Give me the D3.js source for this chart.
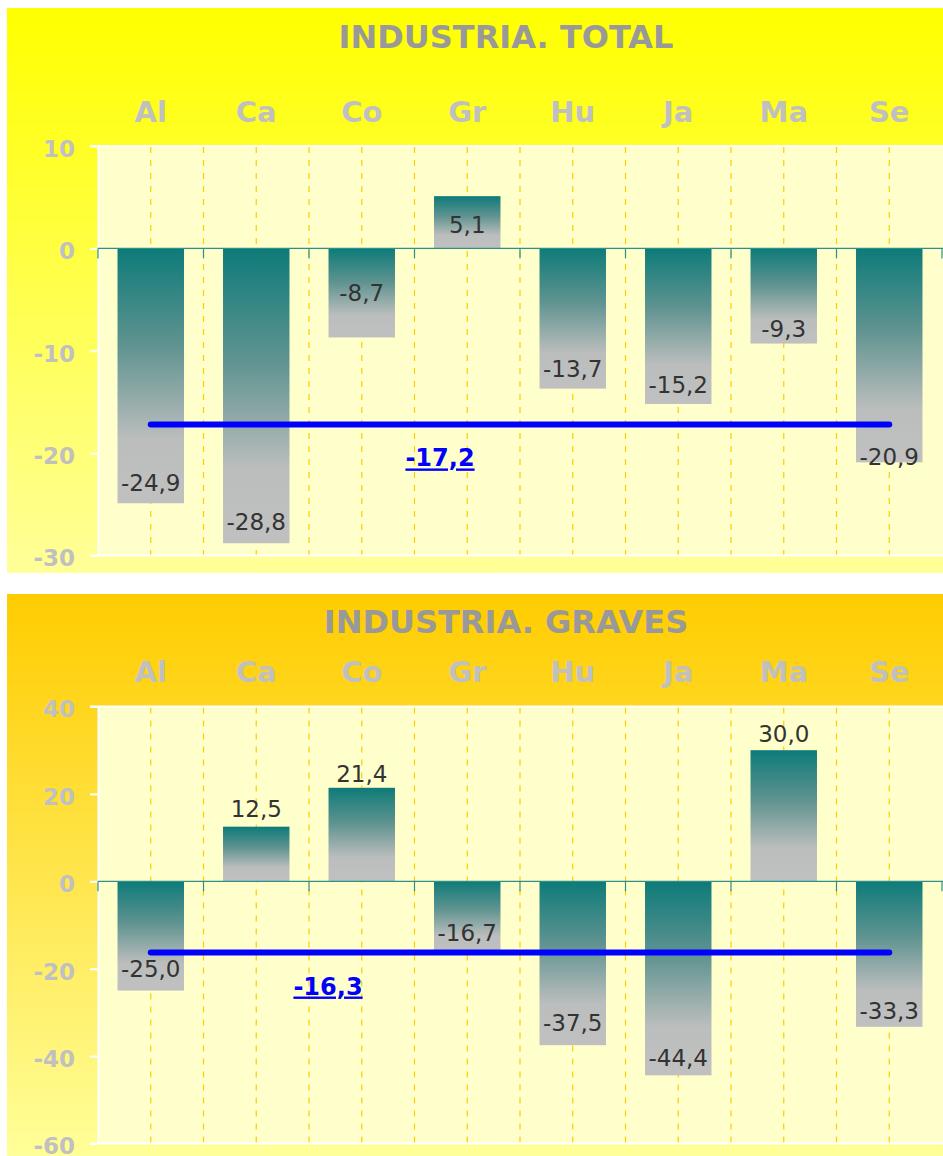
<!DOCTYPE html>
<html>
<head>
<meta charset="utf-8">
<title>Industria</title>
<script src="https://cdn.jsdelivr.net/npm/d3@7"></script>
<style>
  body { margin: 0; background: #fff; }
  svg { display: block; font-family: "DejaVu Sans", Verdana, sans-serif; }
</style>
</head>
<body>
<svg id="chart" width="943" height="1156"></svg>
<script>
// Data
const categories = ["Al", "Ca", "Co", "Gr", "Hu", "Ja", "Ma", "Se"];

const totalValues = [-24.9, -28.8, -8.7, 5.1, -13.7, -15.2, -9.3, -20.9];
const totalMean = -17.2;
const totalTicks = [10, 0, -10, -20, -30];

const gravesValues = [-25.0, 12.5, 21.4, -16.7, -37.5, -44.4, 30.0, -33.3];
const gravesMean = -16.3;
const gravesTicks = [40, 20, 0, -20, -40, -60];

// Spanish number format (comma decimal, plain hyphen)
const locale = d3.formatLocale({decimal: ",", thousands: ".", grouping: [3], currency: ["", "€"], minus: "-"});
const fmt = locale.format(".1f");
const fmtTick = locale.format("d");

const svg = d3.select("#chart");
const defs = svg.append("defs");

// Bar gradient: teal at top to grey at bottom
const barGrad = defs.append("linearGradient")
    .attr("id", "barGrad")
    .attr("x1", 0).attr("y1", 0).attr("x2", 0).attr("y2", 1);
barGrad.append("stop").attr("offset", "0%").attr("stop-color", "#0d7b79");
barGrad.append("stop").attr("offset", "38%").attr("stop-color", "#5f9390");
barGrad.append("stop").attr("offset", "75%").attr("stop-color", "#bbbebd");
barGrad.append("stop").attr("offset", "100%").attr("stop-color", "#c0c0c0");

function drawChart(cfg) {
  const g = svg.append("g");

  // Panel background gradient
  const gid = cfg.id + "Bg";
  const bg = defs.append("linearGradient")
      .attr("id", gid)
      .attr("x1", 0).attr("y1", 0).attr("x2", 0).attr("y2", 1);
  bg.append("stop").attr("offset", "0%").attr("stop-color", cfg.bgTop);
  bg.append("stop").attr("offset", "100%").attr("stop-color", cfg.bgBottom);

  g.append("rect")
      .attr("x", cfg.panel.x).attr("y", cfg.panel.y)
      .attr("width", cfg.panel.w).attr("height", cfg.panel.h)
      .attr("fill", "url(#" + gid + ")");

  const x = d3.scaleBand()
      .domain(categories)
      .range([cfg.plot.left, cfg.plot.right])
      .paddingInner(0.37)
      .paddingOuter(0.185);

  const y = d3.scaleLinear()
      .domain([d3.min(cfg.ticks), d3.max(cfg.ticks)])
      .range([cfg.plot.bottom, cfg.plot.top]);

  const step = x.step();
  const center = d => x(d) + x.bandwidth() / 2;

  // Plot area
  g.append("rect")
      .attr("x", cfg.plot.left).attr("y", cfg.plot.top)
      .attr("width", cfg.plot.right - cfg.plot.left + 2)
      .attr("height", cfg.plot.bottom - cfg.plot.top)
      .attr("fill", "#ffffcc");

  // Dashed vertical gridlines: band centres and boundaries
  const gridX = categories.map(center)
      .concat(categories.slice(1).map(d => x(d) - step * 0.185));
  g.selectAll(".grid")
      .data(gridX)
    .enter().append("line")
      .attr("x1", d => d).attr("x2", d => d)
      .attr("y1", cfg.plot.top + 1).attr("y2", cfg.plot.bottom)
      .attr("stroke", "#ffcc00")
      .attr("stroke-width", 1.2)
      .attr("stroke-dasharray", "6,7");

  // White top and bottom border lines
  g.append("line")
      .attr("x1", cfg.plot.left - 8).attr("x2", cfg.plot.right + 2)
      .attr("y1", cfg.plot.top).attr("y2", cfg.plot.top)
      .attr("stroke", "#fff").attr("stroke-width", 2);
  g.append("line")
      .attr("x1", cfg.plot.left - 8).attr("x2", cfg.plot.right + 2)
      .attr("y1", cfg.plot.bottom).attr("y2", cfg.plot.bottom)
      .attr("stroke", "#fff").attr("stroke-width", 2);

  // Y axis
  const yAxis = g.append("g")
      .attr("transform", "translate(" + cfg.plot.left + ",0)")
      .call(d3.axisLeft(y)
        .tickValues(cfg.ticks)
        .tickSize(8)
        .tickSizeOuter(0)
        .tickPadding(15)
        .tickFormat(fmtTick));
  yAxis.select(".domain").attr("stroke", "#fff").attr("stroke-width", 2);
  yAxis.selectAll(".tick line").attr("stroke", "#fff").attr("stroke-width", 2);
  yAxis.selectAll(".tick text")
      .attr("dy", "0.45em")
      .attr("fill", "#c0c0c0")
      .style("font-size", "23px")
      .style("font-weight", "bold")
      .style("font-family", "DejaVu Sans, Verdana, sans-serif");

  // Bars
  const data = categories.map((c, i) => ({cat: c, value: cfg.values[i], nudge: cfg.nudge[i]}));
  g.selectAll(".bar")
      .data(data)
    .enter().append("rect")
      .attr("x", d => x(d.cat))
      .attr("y", d => y(Math.max(0, d.value)))
      .attr("width", x.bandwidth())
      .attr("height", d => Math.abs(y(d.value) - y(0)))
      .attr("fill", "url(#barGrad)");

  // Zero axis with ticks at band boundaries
  const zeroY = y(0);
  g.append("line")
      .attr("x1", cfg.plot.left).attr("x2", cfg.plot.right + 2)
      .attr("y1", zeroY).attr("y2", zeroY)
      .attr("stroke", "#2f8f8a").attr("stroke-width", 1.2);
  const bounds = categories.map(d => x(d) - step * 0.185).concat([cfg.plot.right]);
  g.selectAll(".xtick")
      .data(bounds)
    .enter().append("line")
      .attr("x1", d => d).attr("x2", d => d)
      .attr("y1", zeroY).attr("y2", zeroY + 10)
      .attr("stroke", "#2f8f8a").attr("stroke-width", 1.2);

  // Value labels
  g.selectAll(".label")
      .data(data)
    .enter().append("text")
      .attr("x", d => center(d.cat))
      .attr("y", d => {
        if (d.value < 0) return y(d.value) - 12 + d.nudge;
        if (cfg.positiveInside) return zeroY - 15 + d.nudge;
        return y(d.value) - 8 + d.nudge;
      })
      .attr("text-anchor", "middle")
      .attr("fill", "#333333")
      .style("font-size", "23px")
      .text(d => fmt(d.value));

  // Mean line
  const meanY = y(cfg.mean);
  g.append("line")
      .attr("x1", center(categories[0]))
      .attr("x2", center(categories[categories.length - 1]))
      .attr("y1", meanY).attr("y2", meanY)
      .attr("stroke", "#0000ff")
      .attr("stroke-width", 6)
      .attr("stroke-linecap", "round");

  g.append("text")
      .attr("x", cfg.meanLabelX)
      .attr("y", meanY + 42)
      .attr("text-anchor", "middle")
      .attr("fill", "#0000ff")
      .style("font-size", "24px")
      .style("font-weight", "bold")
      .style("text-decoration", "underline")
      .text(fmt(cfg.mean));

  // Category labels on top
  g.selectAll(".cat")
      .data(categories)
    .enter().append("text")
      .attr("x", d => center(d))
      .attr("y", cfg.catY)
      .attr("text-anchor", "middle")
      .attr("fill", "#c0c0c0")
      .style("font-size", "29px")
      .style("font-weight", "bold")
      .text(d => d);

  // Title
  g.append("text")
      .attr("x", 506)
      .attr("y", cfg.titleY)
      .attr("text-anchor", "middle")
      .attr("fill", "#999999")
      .style("font-size", "32px")
      .style("font-weight", "bold")
      .text(cfg.title);
}

drawChart({
  id: "total",
  title: "INDUSTRIA. TOTAL",
  values: totalValues,
  mean: totalMean,
  ticks: totalTicks,
  nudge: [0, -1, -24, 0, 0, 1, 5, 15],
  positiveInside: true,
  panel: {x: 7, y: 8, w: 936, h: 565},
  plot: {left: 98, right: 942, top: 146, bottom: 555.5},
  bgTop: "#ffff00",
  bgBottom: "#ffff99",
  titleY: 48,
  catY: 122,
  meanLabelX: 440
});

drawChart({
  id: "graves",
  title: "INDUSTRIA. GRAVES",
  values: gravesValues,
  mean: gravesMean,
  ticks: gravesTicks,
  nudge: [-2, -2, 2, -1, -2, 3, 0, 4],
  positiveInside: false,
  panel: {x: 7, y: 594, w: 936, h: 562},
  plot: {left: 98, right: 942, top: 706.5, bottom: 1143.5},
  bgTop: "#ffcc00",
  bgBottom: "#ffff99",
  titleY: 633,
  catY: 682,
  meanLabelX: 328
});
</script>
</body>
</html>
